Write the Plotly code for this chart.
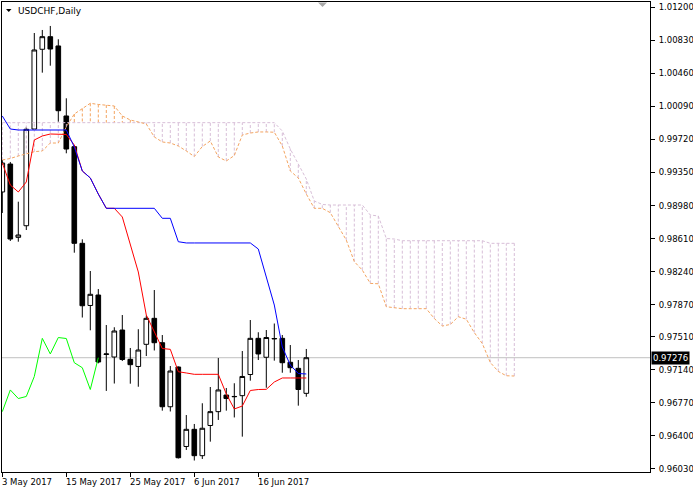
import plotly.graph_objects as go

# ---------------- data ----------------
dates = ["2017-05-03", "2017-05-04", "2017-05-05", "2017-05-08", "2017-05-09", "2017-05-10",
         "2017-05-11", "2017-05-12", "2017-05-15", "2017-05-16", "2017-05-17", "2017-05-18",
         "2017-05-19", "2017-05-22", "2017-05-23", "2017-05-24", "2017-05-25", "2017-05-26",
         "2017-05-29", "2017-05-30", "2017-05-31", "2017-06-01", "2017-06-02", "2017-06-05",
         "2017-06-06", "2017-06-07", "2017-06-08", "2017-06-09", "2017-06-12", "2017-06-13",
         "2017-06-14", "2017-06-15", "2017-06-16", "2017-06-19", "2017-06-20", "2017-06-21",
         "2017-06-22", "2017-06-23", "2017-06-26"]

opens = [0.99132, 0.99445, 0.98624, 0.98754, 0.99837, 1.00730, 1.00871, 1.00767, 0.99983, 0.99639,
         0.98557, 0.97861, 0.97978, 0.97312, 0.97284, 0.97586, 0.97258, 0.97178, 0.97426, 0.97717,
         0.97444, 0.96727, 0.97172, 0.96282, 0.96474, 0.96179, 0.96517, 0.96672, 0.96858, 0.96839,
         0.96851, 0.97088, 0.97493, 0.97281, 0.97486, 0.97493, 0.97225, 0.97157, 0.96877]
highs = [0.99490, 0.99468, 0.99023, 0.99860, 1.00912, 1.00946, 1.00991, 1.00842, 1.00181, 0.99658,
         0.98602, 0.98247, 0.98045, 0.97642, 0.97617, 0.97754, 0.97385, 0.97595, 0.97749, 0.98034,
         0.97530, 0.97183, 0.97178, 0.96634, 0.96534, 0.96766, 0.96948, 0.97273, 0.96937, 0.96990,
         0.97351, 0.97698, 0.97561, 0.97586, 0.97659, 0.97530, 0.97418, 0.97250, 0.97374]
lows = [0.98897, 0.98583, 0.98575, 0.98706, 0.99826, 1.00468, 1.00546, 0.99919, 0.99565, 0.98452,
        0.97726, 0.97583, 0.97213, 0.96904, 0.96987, 0.97239, 0.96985, 0.96951, 0.97295, 0.97357,
        0.96683, 0.96674, 0.96147, 0.96243, 0.96125, 0.96142, 0.96336, 0.96579, 0.96683, 0.96607,
        0.96392, 0.97019, 0.97250, 0.96940, 0.97243, 0.97108, 0.97108, 0.96739, 0.96839]
closes = [0.99456, 0.98605, 0.98650, 0.99834, 1.00722, 1.00871, 1.00733, 1.00042, 0.99613, 0.98557,
          0.97858, 0.97986, 0.97228, 0.97318, 0.97575, 0.97256, 0.97198, 0.97362, 0.97717, 0.97444,
          0.96727, 0.97127, 0.96156, 0.96474, 0.96179, 0.96486, 0.96672, 0.96915, 0.96819, 0.96842,
          0.97066, 0.97493, 0.97318, 0.97502, 0.97491, 0.97220, 0.97164, 0.96920, 0.97276]

tenkan = [0.99456, 0.99210, 0.99132, 0.99244, 0.99714, 0.99759, 0.99781, 0.99781, 0.99776, 0.99658,
          0.99367, 0.99289, 0.99109, 0.98949, 0.98949, 0.98852, 0.98538, 0.98236, 0.97754, 0.97564,
          0.97379, 0.97370, 0.97119, 0.97105, 0.97090, 0.97090, 0.97090, 0.97090, 0.96870, 0.96702,
          0.96735, 0.96909, 0.96920, 0.96922, 0.97004, 0.97049, 0.97049, 0.97049, 0.97049]
kijun = [0.99983, 0.99837, 0.99826, 0.99826, 0.99826, 0.99826, 0.99826, 0.99826, 0.99826, 0.99636,
         0.99367, 0.99289, 0.99109, 0.98949, 0.98949, 0.98949, 0.98949, 0.98949, 0.98949, 0.98949,
         0.98837, 0.98837, 0.98575, 0.98561, 0.98561, 0.98561, 0.98561, 0.98561, 0.98561, 0.98561,
         0.98561, 0.98561, 0.98493, 0.98191, 0.97866, 0.97396, 0.97194, 0.97099, 0.97094]

# Senkou spans start at the first visible bar and run 26 bars past the last one
senkou_a = [0.99490, 0.99507, 0.99535, 0.99563, 0.99583, 0.99591, 0.99680, 0.99680, 0.99860, 1.00005,
            1.00067, 1.00125, 1.00112, 1.00106, 1.00095, 0.99983, 0.99938, 0.99916, 0.99893, 0.99748,
            0.99692, 0.99680, 0.99647, 0.99591, 0.99529, 0.99641, 0.99703, 0.99524, 0.99479, 0.99540,
            0.99770, 0.99792, 0.99804, 0.99804, 0.99801, 0.99647, 0.99367, 0.99289, 0.99109, 0.98949,
            0.98949, 0.98900, 0.98744, 0.98593, 0.98352, 0.98257, 0.98108, 0.98104, 0.97847, 0.97833,
            0.97825, 0.97825, 0.97825, 0.97825, 0.97715, 0.97631, 0.97648, 0.97735, 0.97707, 0.97557,
            0.97435, 0.97222, 0.97122, 0.97074, 0.97071]
senkou_b = [0.99908, 0.99908, 0.99908, 0.99908, 0.99908, 0.99908, 0.99908, 0.99908, 0.99908, 0.99908,
            0.99908, 0.99908, 0.99908, 0.99908, 0.99908, 0.99908, 0.99908, 0.99908, 0.99908, 0.99908,
            0.99908, 0.99908, 0.99908, 0.99908, 0.99908, 0.99908, 0.99908, 0.99908, 0.99908, 0.99908,
            0.99908, 0.99908, 0.99908, 0.99908, 0.99908, 0.99815, 0.99613, 0.99445, 0.99277, 0.99031,
            0.98992, 0.98986, 0.98986, 0.98986, 0.98986, 0.98986, 0.98874, 0.98863, 0.98611, 0.98605,
            0.98586, 0.98586, 0.98586, 0.98586, 0.98586, 0.98586, 0.98586, 0.98586, 0.98586, 0.98586,
            0.98586, 0.98557, 0.98557, 0.98557, 0.98557]

chikou_shift = 26
tick_dates = ["2017-05-03", "2017-05-15", "2017-05-25", "2017-06-06", "2017-06-16"]
tick_labels = ["3 May 2017", "15 May 2017", "25 May 2017", "6 Jun 2017", "16 Jun 2017"]
price_ticks = [1.01200, 1.00830, 1.00460, 1.00090, 0.99720, 0.99350, 0.98980, 0.98610,
               0.98240, 0.97870, 0.97510, 0.97140, 0.96770, 0.96400, 0.96030]
last_price = 0.97276
title_text = "USDCHF,Daily"

# ---------------- figure ----------------
FONT = "DejaVu Sans"
FS = 8.5
W, H = 693, 494
ML, MR, MT, MB = 2, 43, 2, 22
PW, PH = W - ML - MR, H - MT - MB

bar_x = list(range(len(dates)))
span_x = list(range(len(senkou_a)))
chikou_x = [i - chikou_shift for i in bar_x[chikou_shift:]]

fig = go.Figure()

# cloud hatch (vertical dashed lines between the spans)
hx_up, hy_up, hx_dn, hy_dn = [], [], [], []
for i, (a, b) in enumerate(zip(senkou_a, senkou_b)):
    if a > b:
        hx_up += [i, i, None]; hy_up += [a, b, None]
    else:
        hx_dn += [i, i, None]; hy_dn += [a, b, None]
fig.add_trace(go.Scatter(x=hx_dn, y=hy_dn, mode="lines",
                         line=dict(color="#D8BFD8", width=1, dash="3px,2px"), hoverinfo="skip"))
fig.add_trace(go.Scatter(x=hx_up, y=hy_up, mode="lines",
                         line=dict(color="#F4A460", width=1, dash="3px,2px"), hoverinfo="skip"))

fig.add_trace(go.Candlestick(
    x=bar_x, open=opens, high=highs, low=lows, close=closes,
    increasing=dict(fillcolor="#FFFFFF", line=dict(color="#000000", width=1)),
    decreasing=dict(fillcolor="#000000", line=dict(color="#000000", width=1)),
    whiskerwidth=0, hoverinfo="skip"))

fig.add_trace(go.Scatter(x=span_x, y=senkou_b, mode="lines",
                         line=dict(color="#D8BFD8", width=1, dash="3px,2px")))
fig.add_trace(go.Scatter(x=span_x, y=senkou_a, mode="lines",
                         line=dict(color="#F4A460", width=1, dash="3px,2px")))
fig.add_trace(go.Scatter(x=chikou_x, y=closes[chikou_shift:], mode="lines",
                         line=dict(color="#00FF00", width=1)))
fig.add_trace(go.Scatter(x=bar_x, y=tenkan, mode="lines", line=dict(color="#FF0000", width=1)))
fig.add_trace(go.Scatter(x=bar_x, y=kijun, mode="lines", line=dict(color="#0000FF", width=1)))

# axis ranges: 8 px per bar, first bar centre 0.3 px right of the left frame
x0 = -0.3 / 8
x1 = x0 + PW / 8
y_top = 1.012593
y_bot = 0.959962

tick_idx = [dates.index(d) for d in tick_dates]

def px_to_paper_x(px):
    return (px - ML) / PW

def px_to_paper_y(py):
    return 1 - (py - MT) / PH

shapes = [
    dict(type="line", xref="paper", yref="y", x0=0, x1=1, y0=last_price, y1=last_price,
         line=dict(color="#C0C0C0", width=1), layer="below"),
    # small black triangle before the title
    dict(type="path", xref="paper", yref="paper",
         path="M {:.5f},{:.5f} L {:.5f},{:.5f} L {:.5f},{:.5f} Z".format(
             px_to_paper_x(6), px_to_paper_y(9), px_to_paper_x(11.5), px_to_paper_y(9),
             px_to_paper_x(8.75), px_to_paper_y(12)),
         fillcolor="#000000", line=dict(width=0)),
    # grey shift marker at the top
    dict(type="path", xref="paper", yref="paper",
         path="M {:.5f},{:.5f} L {:.5f},{:.5f} L {:.5f},{:.5f} Z".format(
             px_to_paper_x(318), px_to_paper_y(2.5), px_to_paper_x(327), px_to_paper_y(2.5),
             px_to_paper_x(322.5), px_to_paper_y(7)),
         fillcolor="#A8A8A8", line=dict(width=0)),
]

annotations = [
    dict(xref="paper", yref="paper", x=px_to_paper_x(16), y=px_to_paper_y(11),
         xanchor="left", yanchor="middle", text=title_text, showarrow=False,
         font=dict(family=FONT, size=9, color="#000000")),
    dict(xref="paper", yref="y", x=1, y=last_price, xanchor="left", yanchor="middle",
         text="{:.5f}".format(last_price), showarrow=False, bgcolor="#000000",
         font=dict(family=FONT, size=FS, color="#FFFFFF"), borderpad=1, xshift=1),
]
for i, lab in zip(tick_idx, tick_labels):
    annotations.append(dict(xref="x", yref="paper", x=i, y=0, xanchor="left", yanchor="top",
                            text=lab, showarrow=False, xshift=-2, yshift=-3,
                            font=dict(family=FONT, size=FS, color="#000000")))

fig.update_layout(
    template="none",
    width=W, height=H,
    margin=dict(l=ML, r=MR, t=MT, b=MB, pad=0, autoexpand=False),
    paper_bgcolor="#FFFFFF", plot_bgcolor="#FFFFFF",
    showlegend=False, boxgap=0.42, boxgroupgap=0,
    shapes=shapes, annotations=annotations,
    xaxis=dict(range=[x0, x1], showgrid=False, zeroline=False, showline=True, mirror=True,
               linecolor="#000000", linewidth=1, ticks="outside", ticklen=4, tickcolor="#000000",
               tickvals=tick_idx, showticklabels=False, rangeslider=dict(visible=False),
               fixedrange=True, automargin=False),
    yaxis=dict(range=[y_bot, y_top], side="right", showgrid=False, zeroline=False,
               showline=True, mirror=True, linecolor="#000000", linewidth=1,
               ticks="outside", ticklen=4, tickcolor="#000000",
               tickvals=price_ticks, ticktext=["{:.5f}".format(v) for v in price_ticks],
               tickfont=dict(family=FONT, size=FS, color="#000000"), ticklabelstandoff=2,
               fixedrange=True, automargin=False),
)

fig.write_html("out.html", config={"displayModeBar": False},
               post_script="document.body.style.margin='0';document.body.style.padding='0';")
